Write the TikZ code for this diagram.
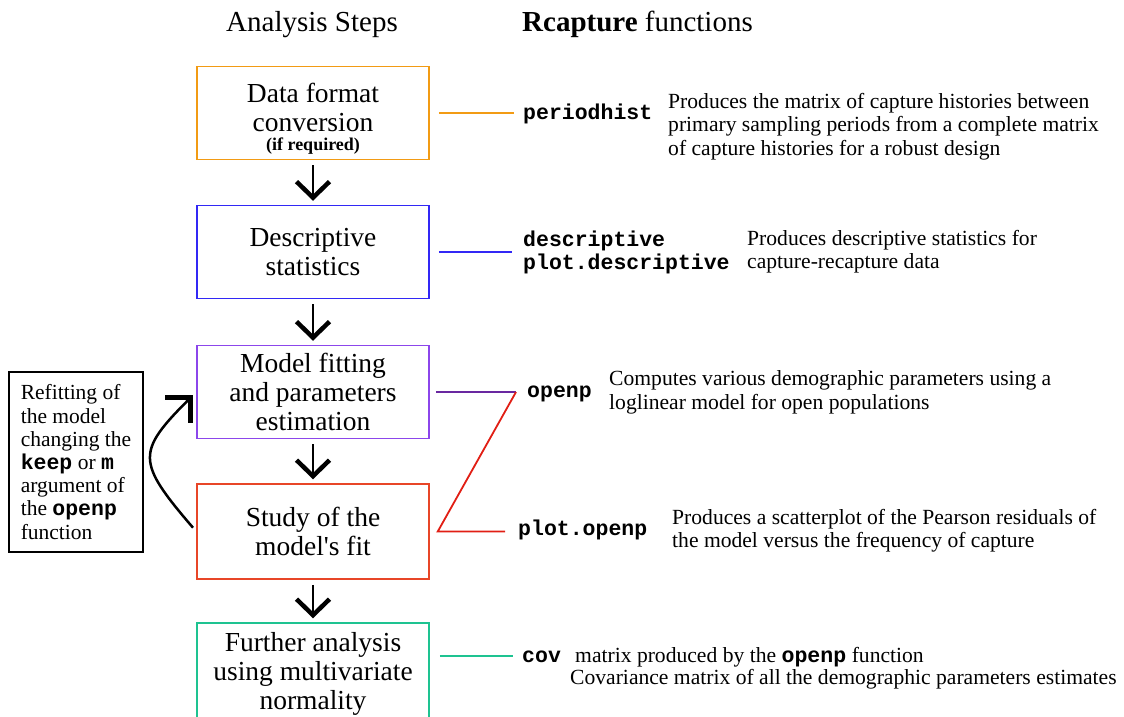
\documentclass[tikz,border=0pt]{standalone}
\usepackage{fontspec}
\setmainfont{Liberation Serif}[Ligatures=TeXOff]
\setmonofont{Liberation Mono}
\usetikzlibrary{arrows.meta,calc}
\definecolor{corange}{RGB}{242,155,20}
\definecolor{cblue}{RGB}{50,40,245}
\definecolor{cpurple}{RGB}{140,70,235}
\definecolor{cpurpleline}{RGB}{105,40,160}
\definecolor{cred}{RGB}{232,70,40}
\definecolor{credline}{RGB}{225,30,20}
\definecolor{cgreen}{RGB}{30,195,145}
\newcommand\myboxfont{\fontsize{27.5}{29}\selectfont}
\newcommand\mydescfont{\fontsize{21.6}{23.5}\selectfont}
\newcommand\mycode[1]{{\ttfamily\bfseries #1}}
\begin{document}
\begin{tikzpicture}[x=1pt,y=-1pt,
  stepbox/.style={draw, line width=1.5pt, minimum width=232pt, minimum height=93pt,
    inner sep=0pt, align=center, font=\myboxfont},
  desc/.style={inner sep=0pt, align=left, font=\mydescfont},
  codetext/.style={inner sep=0pt, align=left, font=\fontsize{21.5}{23}\selectfont\ttfamily\bfseries},
  titletext/.style={inner sep=0pt, font=\fontsize{29}{31}\selectfont},
  flow/.style={line width=2.5pt, -{Straight Barb[length=16pt,width=33pt,line width=4.5pt]},
    shorten <=5pt, shorten >=4pt},
  link/.style={line width=1.8pt}
]
\useasboundingbox (0,0) rectangle (1124,717);

% titles
\node[titletext, anchor=base west] (t1) at (226,32) {Analysis Steps};
\node[titletext, anchor=base west] (t2) at (522,32) {\textbf{Rcapture} functions};

% step boxes
\node[stepbox, draw=corange] (box1) at (313,113)
  {\rule{0pt}{30.8pt}Data format\\conversion\\[-10pt]{\fontsize{18}{19}\selectfont\bfseries (if required)}};
\node[stepbox, draw=cblue] (box2) at (313,252) {Descriptive\\statistics};
\node[stepbox, draw=cpurple] (box3) at (313,392) {Model fitting\\and parameters\\estimation};
\node[stepbox, draw=cred, minimum height=95pt] (box4) at (313,531.5) {Study of the\\model's fit};
\node[stepbox, draw=cgreen, minimum height=102pt] (box5) at (313,674)
  {Further analysis\\using multivariate\\normality};

% flow arrows
\draw[flow] (box1.south) -- (box2.north);
\draw[flow] (box2.south) -- (box3.north);
\draw[flow] (box3.south) -- (box4.north);
\draw[flow] (box4.south) -- (box5.north);

% refit box
\node[draw, line width=1.3pt, align=left, minimum width=134pt, minimum height=180pt,
  inner sep=0pt, font=\fontsize{21.5}{23.2}\selectfont] (refit) at (76,462)
  {Refitting of\\the model\\changing the\\\mycode{keep} or \mycode{m}\\argument of\\the \mycode{openp}\\function};

% refit curved arrow
\draw[line width=2.5pt, -{Straight Barb[length=18pt,width=36pt,line width=5pt]},
  shorten <=5pt, shorten >=4pt]
  (box4.west) .. controls +(-60,-70) and +(-60,60) .. (box3.west);

% function names
\node[codetext, anchor=base west] (fper) at (523,119) {periodhist};
\node[codetext, anchor=west] (fdesc) at (523,252) {descriptive\\plot.descriptive};
\node[codetext, anchor=base west] (fopenp) at (527,397) {openp};
\node[codetext, anchor=base west] (fplot) at (518,535) {plot.openp};
\node[codetext, anchor=base west] (fcov) at (522,662) {cov};

% descriptions
\node[desc, anchor=west] (dper) at (668,126.5)
  {Produces the matrix of capture histories between\\primary sampling periods from a complete matrix\\of capture histories for a robust design};
\node[desc, anchor=west] (ddesc) at (747,251.5)
  {Produces descriptive statistics for\\capture-recapture data};
\node[desc, anchor=west] (dopenp) at (609,392.5)
  {Computes various demographic parameters using a\\loglinear model for open populations};
\node[desc, anchor=west] (dplot) at (672,530.5)
  {Produces a scatterplot of the Pearson residuals of\\the model versus the frequency of capture};
\node[desc, anchor=base west] (dcov1) at (575,662)
  {matrix produced by the \mycode{openp} function};
\node[desc, anchor=base west] (dcov2) at (570,684)
  {Covariance matrix of all the demographic parameters estimates};

% links
\coordinate (P) at ($(box1.east)+(84,0)$);
\draw[link, draw=corange, shorten <=9pt] (box1.east) -- (P);
\draw[link, draw=cblue, shorten <=9pt, shorten >=11pt] (box2.east) -- (box2.east -| fdesc.west);
\coordinate (J) at ($(box3.east -| fopenp.west)+(-11,0)$);
\coordinate (K) at ($(box4.east)+(8,0)$);
\draw[link, draw=cpurpleline, shorten <=6pt] (box3.east) -- (J);
\draw[link, draw=credline, shorten >=13pt] (J) -- (K) -- (K -| fplot.west);
\draw[link, draw=cgreen, shorten <=10pt, shorten >=9pt] (fcov.west -| box5.east) -- (fcov.west);
\end{tikzpicture}
\end{document}
